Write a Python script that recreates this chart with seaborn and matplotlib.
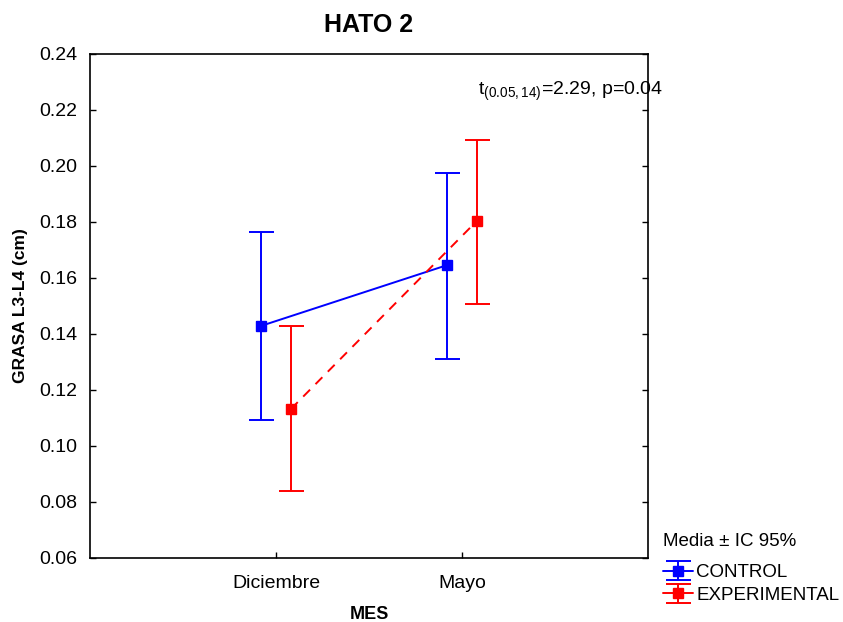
import numpy as np
import pandas as pd
import matplotlib
matplotlib.use("Agg")
import matplotlib.pyplot as plt
from matplotlib.lines import Line2D
import seaborn as sns

meses = ["Diciembre", "Mayo"]
grupos = ["CONTROL", "EXPERIMENTAL"]
control_media = [0.1429, 0.1646]
control_inf = [0.1093, 0.1311]
control_sup = [0.1764, 0.1975]
exp_media = [0.1132, 0.1804]
exp_inf = [0.0839, 0.1507]
exp_sup = [0.1429, 0.2093]
yticks = [0.06, 0.08, 0.10, 0.12, 0.14, 0.16, 0.18, 0.20, 0.22, 0.24]

sns.set_theme(style="white")
plt.rcParams["font.family"] = ["Liberation Sans", "DejaVu Sans"]
plt.rcParams["mathtext.fontset"] = "custom"
plt.rcParams["mathtext.rm"] = "Liberation Sans"
plt.rcParams["mathtext.it"] = "Liberation Sans"
plt.rcParams["text.color"] = "black"
plt.rcParams["axes.labelcolor"] = "black"

colors = {"CONTROL": "#0000FF", "EXPERIMENTAL": "#FF0000"}
offs = {"CONTROL": -0.08, "EXPERIMENTAL": 0.08}
rows = []
for g, m, lo, hi in [("CONTROL", control_media, control_inf, control_sup),
                     ("EXPERIMENTAL", exp_media, exp_inf, exp_sup)]:
    for i, mes in enumerate(meses):
        rows.append(dict(grupo=g, mes=mes, x=i + offs[g], media=m[i], inf=lo[i], sup=hi[i]))
df = pd.DataFrame(rows)

fig = plt.figure(figsize=(8.43, 6.22), dpi=100)
ax = fig.add_axes([0.1068, 0.1029, 0.6619, 0.8103])

sns.lineplot(data=df, x="x", y="media", hue="grupo", style="grupo",
             palette=colors, dashes={"CONTROL": "", "EXPERIMENTAL": (5, 4)},
             markers={"CONTROL": "s", "EXPERIMENTAL": "s"}, markersize=7,
             markeredgewidth=0, linewidth=1.4, ax=ax, legend=False, sort=False)

handles = []
for g in grupos:
    d = df[df.grupo == g]
    eb = ax.errorbar(d["x"], d["media"], yerr=[d["media"] - d["inf"], d["sup"] - d["media"]],
                     fmt="s", color=colors[g], ms=7, capsize=9, elinewidth=1.4,
                     capthick=1.4, linestyle="none", label=g)
    ln = Line2D([], [], color=colors[g], lw=1.4)
    handles.append((ln, eb))

ax.set_xlim(-1, 2)
ax.set_ylim(0.06, 0.24)
ax.set_xticks(range(len(meses)))
ax.set_xticklabels(meses)
ax.set_yticks(yticks)
ax.set_yticklabels([f"{v:.2f}" for v in yticks])
ax.tick_params(axis="x", direction="in", length=4, width=1, labelsize=14, pad=12,
               colors="black", bottom=True)
ax.tick_params(axis="y", direction="in", length=4, width=1, labelsize=14, pad=9,
               colors="black", left=True, right=True)
for s in ax.spines.values():
    s.set_color("black")
    s.set_linewidth(1.2)

ax.set_xlabel("MES", fontsize=13, fontweight="bold", labelpad=10, color="black")
ax.set_ylabel("GRASA L3-L4 (cm)", fontsize=12.5, fontweight="bold", labelpad=8, color="black")
ax.set_title("HATO 2", fontsize=18, fontweight="bold", pad=16, color="black")

ax.text(1.086, 0.2268, r"t$_{(0.05,14)}$=2.29, p=0.04", fontsize=14, va="center",
        ha="left", clip_on=False, color="black")

leg = fig.legend(handles, grupos, title="Media ± IC 95%", loc="upper left",
                 bbox_to_anchor=(0.777, 0.155), frameon=False, fontsize=13.5,
                 title_fontsize=13.5, handlelength=1.6, handletextpad=0.2,
                 labelspacing=0.3, borderaxespad=0)
leg._legend_box.align = "left"
leg._legend_box.sep = 10

fig.savefig("out.png", dpi=100)
